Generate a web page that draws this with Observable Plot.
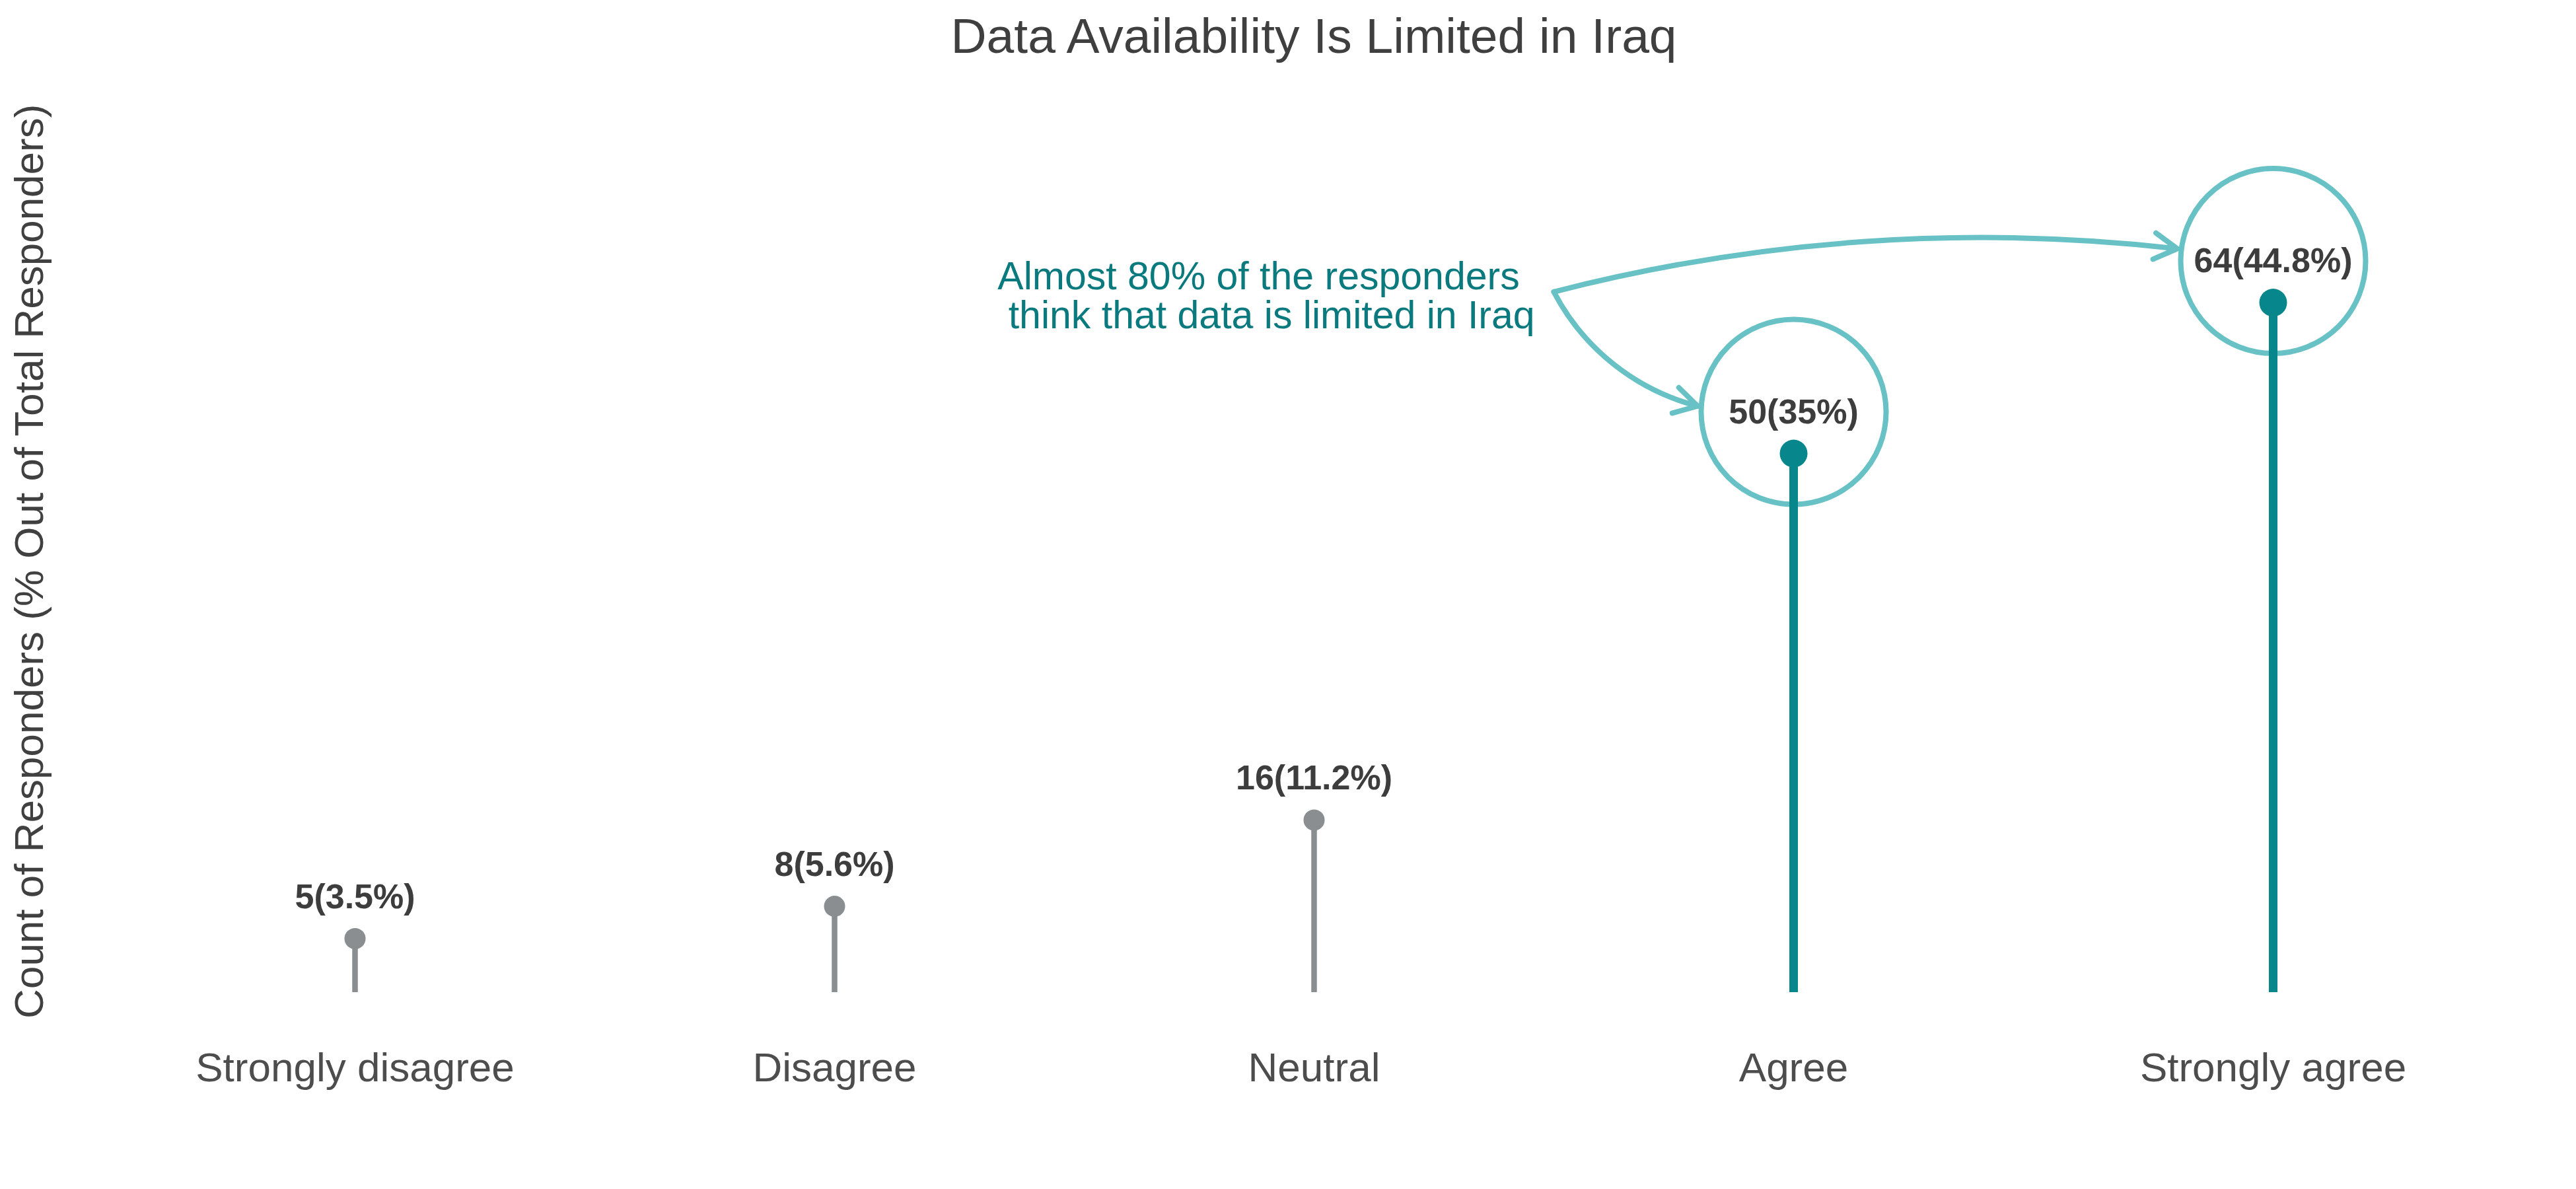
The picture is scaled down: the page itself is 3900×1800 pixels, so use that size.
<!DOCTYPE html>
<html>
<head>
<meta charset="utf-8">
<script src="https://cdn.jsdelivr.net/npm/d3@7"></script>
<script src="https://cdn.jsdelivr.net/npm/@observablehq/plot@0.6"></script>
<style>
  html, body { margin: 0; padding: 0; background: #ffffff; }
  #title {
    width: 3900px; height: 110px; box-sizing: border-box;
    padding: 17px 96px 0 174px; text-align: center;
    font-family: "Liberation Sans", Arial, sans-serif; font-size: 75px; line-height: 75px;
    color: #3f3f3f; white-space: nowrap;
  }
  #chart svg { display: block; }
</style>
</head>
<body>
<div id="title">Data Availability Is Limited in Iraq</div>
<div id="chart"></div>
<script>
// ---- data ----
const categories = ["Strongly disagree", "Disagree", "Neutral", "Agree", "Strongly agree"];
const counts = [5, 8, 16, 50, 64];
const percents = [3.5, 5.6, 11.2, 35, 44.8];
const highlighted = ["Agree", "Strongly agree"];
const yLabel = "Count of Responders (% Out of Total Responders)";
const noteText = "Almost 80% of the responders\n\u00a0think that data is limited in Iraq";
const noteX = [1.34];
const noteY = [64.6];
const arrowFrom = [[2.5, 65], [2.5, 65]];
const arrowTo = [[3.8, 69], [2.8, 54.4]];
const arrowBend = [10.5, -24];

// ---- styles ----
const grey = "#8a8e90";
const teal = "#07878b";
const lightTeal = "#68c2c5";
const noteColor = "#0a7a7e";

const rows = categories.map((c, i) => ({i, cat: c, count: counts[i], pct: percents[i], hi: highlighted.includes(c)}));
const arrows = arrowFrom.map((f, k) => ({x1: f[0], y1: f[1], x2: arrowTo[k][0], y2: arrowTo[k][1], bend: arrowBend[k]}));

const chart = Plot.plot({
  width: 3900,
  height: 1690,
  marginLeft: 174,
  marginRight: 96,
  marginTop: 86.5,
  marginBottom: 298,
  x: {type: "linear", domain: [-0.5, categories.length - 0.5], label: null},
  y: {domain: [0, 80], axis: null, label: null},
  style: {fontFamily: "'Liberation Sans', Arial, sans-serif", fontSize: "62px", color: "#4d4d4d", background: "#ffffff"},
  marks: [
    Plot.axisX(d3.range(categories.length), {
      tickFormat: (i) => categories[i], tickSize: 0, tickPadding: 90, label: null, fontSize: 62, fill: "#4d4d4d"
    }),
    Plot.text([yLabel], {frameAnchor: "left", textAnchor: "middle", lineAnchor: "middle", rotate: -90, dx: -129,
      fontSize: 62, fill: "#404040", text: (d) => d}),
    // highlight circles
    Plot.dot(rows.filter((d) => d.hi), {x: "i", y: "count", dy: -63, r: 140, fill: "none", stroke: lightTeal, strokeWidth: 8}),
    // stems
    Plot.ruleX(rows.filter((d) => !d.hi), {x: "i", y1: 0, y2: "count", stroke: grey, strokeWidth: 8.5}),
    Plot.ruleX(rows.filter((d) => d.hi), {x: "i", y1: 0, y2: "count", stroke: teal, strokeWidth: 13}),
    // heads
    Plot.dot(rows.filter((d) => !d.hi), {x: "i", y: "count", r: 16, fill: grey}),
    Plot.dot(rows.filter((d) => d.hi), {x: "i", y: "count", r: 21, fill: teal}),
    // value labels
    Plot.text(rows, {x: "i", y: "count", text: (d) => `${d.count}(${d.pct}%)`, dy: -46, lineAnchor: "bottom",
      fontWeight: "bold", fontSize: 52, fill: "#3d3d3d"}),
    // annotation
    Plot.text([noteText], {x: noteX, y: noteY, text: (d) => d, textAnchor: "start", lineAnchor: "middle",
      fontSize: 59, lineHeight: 1.0, fill: noteColor}),
    ...arrows.map((a) => Plot.arrow([a], {x1: "x1", y1: "y1", x2: "x2", y2: "y2", bend: a.bend,
      stroke: lightTeal, strokeWidth: 8, headLength: 7.5, headAngle: 60}))
  ]
});
document.getElementById("chart").appendChild(chart);
</script>
</body>
</html>
